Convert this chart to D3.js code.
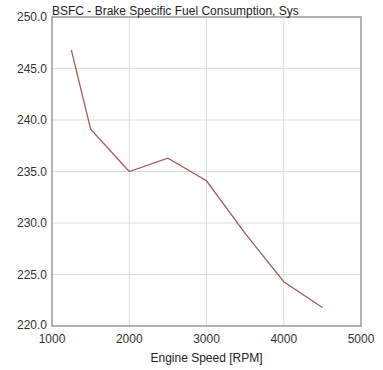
<!DOCTYPE html>
<html>
<head>
<meta charset="utf-8">
<script src="https://cdn.jsdelivr.net/npm/d3@7"></script>
<style>
  body { margin: 0; background: #fff; }
  text { font-family: "Liberation Sans", Arial, sans-serif; }
</style>
</head>
<body>
<svg width="383" height="370"></svg>
<script>
// Data
const rpm = [1250, 1500, 2000, 2500, 3000, 3500, 4000, 4500];
const bsfc = [246.8, 239.1, 235.0, 236.3, 234.1, 229.0, 224.3, 221.8];
const xTicks = [1000, 2000, 3000, 4000, 5000];
const yTicks = [220, 225, 230, 235, 240, 245, 250];

const svg = d3.select("svg");
const margin = {left: 52, right: 22, top: 17, bottom: 44};
const width = 383, height = 370;

const x = d3.scaleLinear().domain([1000, 5000]).range([margin.left, width - margin.right]);
const y = d3.scaleLinear().domain([220, 250]).range([height - margin.bottom, margin.top]);

// grid lines
svg.append("g")
  .selectAll("line")
  .data(xTicks.slice(1, -1))
  .join("line")
    .attr("x1", d => x(d)).attr("x2", d => x(d))
    .attr("y1", y(250)).attr("y2", y(220))
    .style("stroke", "#dcdcdc").style("stroke-width", 1);

svg.append("g")
  .selectAll("line")
  .data(yTicks.slice(1, -1))
  .join("line")
    .attr("x1", x(1000)).attr("x2", x(5000))
    .attr("y1", d => y(d)).attr("y2", d => y(d))
    .style("stroke", "#dcdcdc").style("stroke-width", 1);

// plot frame
svg.append("rect")
  .attr("x", x(1000)).attr("y", y(250))
  .attr("width", x(5000) - x(1000)).attr("height", y(220) - y(250))
  .style("fill", "none").style("stroke", "#9a9a9a").style("stroke-width", 1.5);

// tick labels
svg.append("g")
  .selectAll("text")
  .data(yTicks)
  .join("text")
    .attr("x", x(1000) - 5)
    .attr("y", d => y(d) + (d === 220 ? -1 : 0))
    .attr("dy", "0.35em")
    .attr("text-anchor", "end")
    .style("font-size", "12px")
    .style("fill", "#333")
    .text(d => d.toFixed(1));

svg.append("g")
  .selectAll("text")
  .data(xTicks)
  .join("text")
    .attr("x", d => x(d))
    .attr("y", y(220) + 13)
    .attr("dy", "0.35em")
    .attr("text-anchor", "middle")
    .style("font-size", "12px")
    .style("fill", "#333")
    .text(d => d);

// axis title
svg.append("text")
  .attr("x", (x(1000) + x(5000)) / 2)
  .attr("y", 358)
  .attr("dy", "0.35em")
  .attr("text-anchor", "middle")
  .style("font-size", "12px")
  .style("fill", "#222")
  .text("Engine Speed [RPM]");

// chart title
svg.append("text")
  .attr("x", x(1000))
  .attr("y", 15)
  .style("font-size", "12px")
  .style("fill", "#222")
  .text("BSFC - Brake Specific Fuel Consumption, Sys");

// data line
const line = d3.line()
  .x((d, i) => x(rpm[i]))
  .y(d => y(d));

svg.append("path")
  .datum(bsfc)
  .attr("d", line)
  .style("fill", "none")
  .style("stroke", "#a65a5e")
  .style("stroke-width", 1.3);
</script>
</body>
</html>
